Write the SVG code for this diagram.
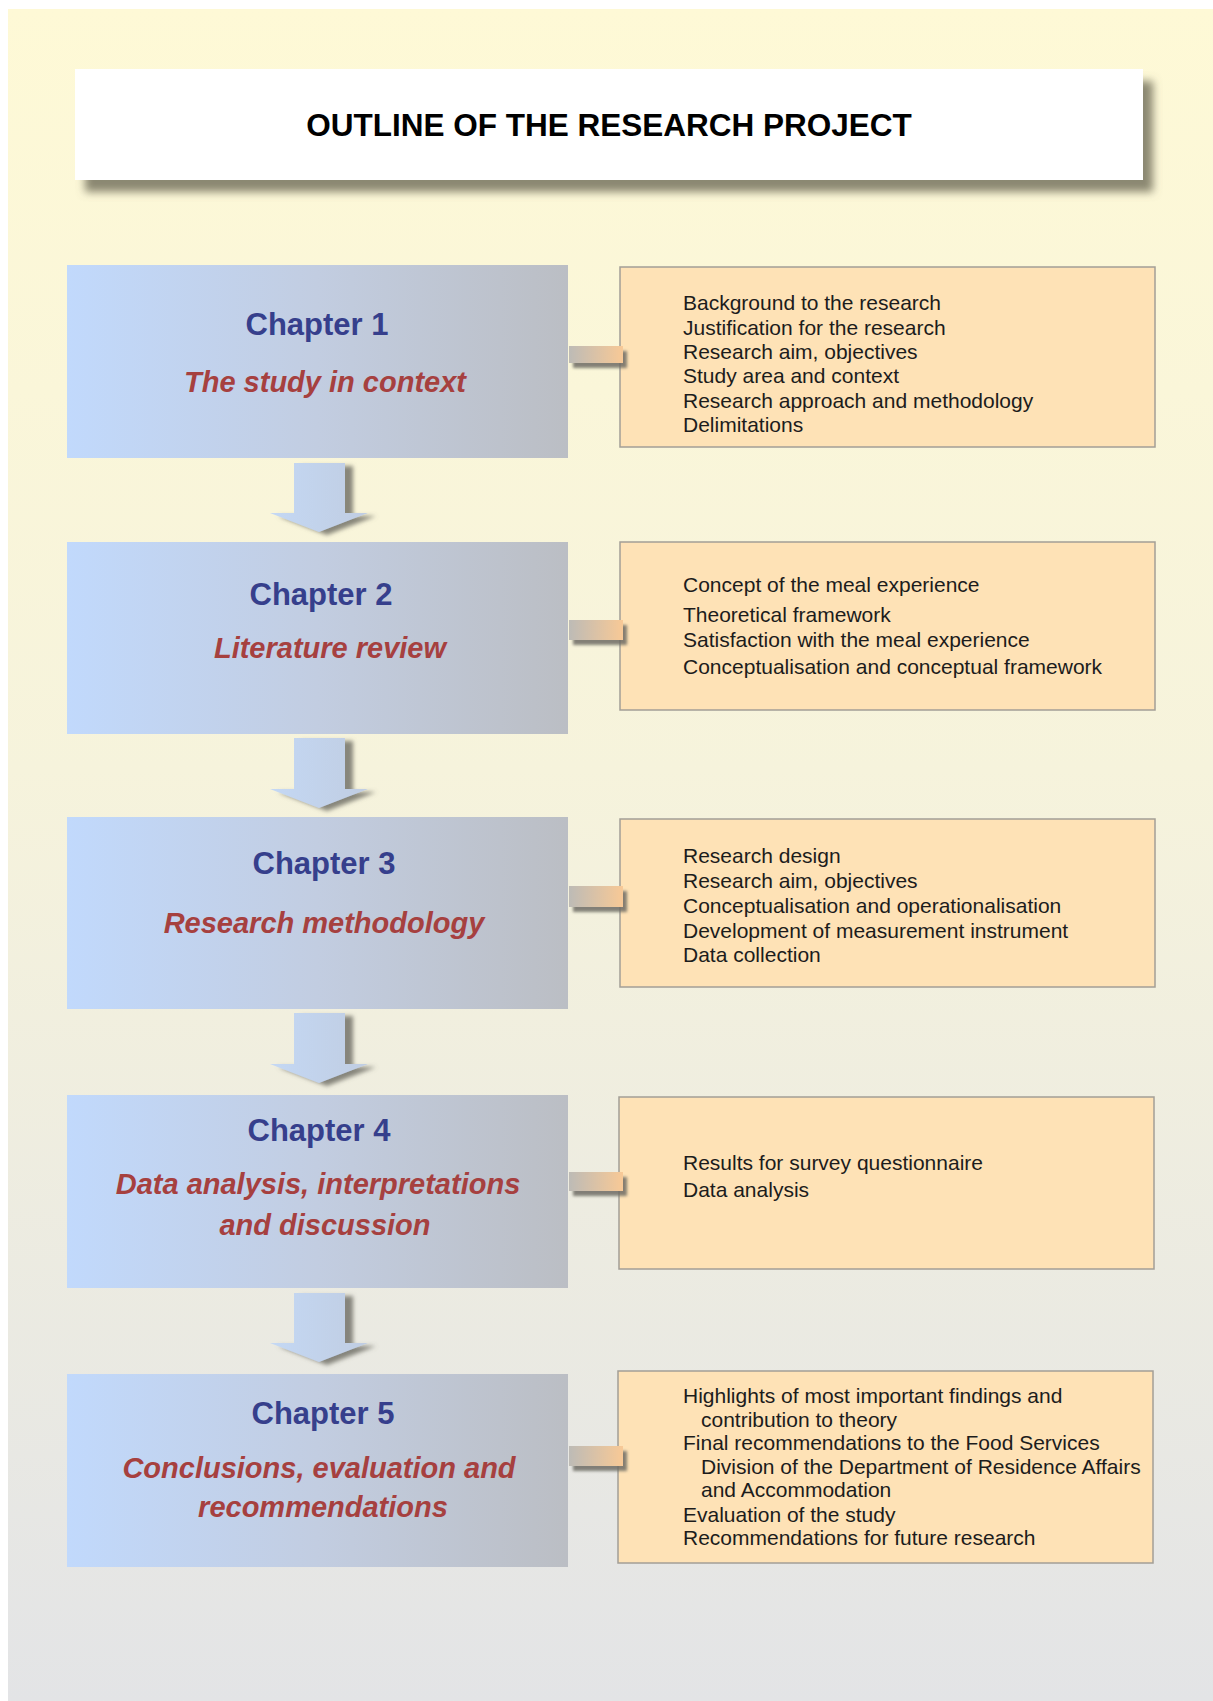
<svg xmlns="http://www.w3.org/2000/svg" width="1213" height="1701" viewBox="0 0 1213 1701">
  <style>
    .title { font-family: "Liberation Sans", Arial, sans-serif; font-weight: bold; font-size: 31.5px; fill: #000; text-anchor: middle; }
    .chap { font-family: "Liberation Sans", Arial, sans-serif; font-weight: bold; font-size: 31px; fill: #363f8c; text-anchor: middle; }
    .sub { font-family: "Liberation Sans", Arial, sans-serif; font-weight: bold; font-style: italic; font-size: 29px; fill: #a6403f; text-anchor: middle; }
    .item { font-family: "Liberation Sans", Arial, sans-serif; font-size: 21px; fill: #1c1c1c; }
    .chapbox { fill: url(#chapGrad); }
    .detail { fill: #fee2b6; stroke: #a39e96; stroke-width: 1.5; }
    .bar { fill: url(#barGrad); filter: url(#barShadow); }
    .arrow { fill: url(#arrowGrad); filter: url(#arrowShadow); }
  </style>
  <defs>
    <linearGradient id="bgGrad" x1="0" y1="0" x2="0" y2="1">
      <stop offset="0" stop-color="#fef9d6"/>
      <stop offset="0.45" stop-color="#f6f3dc"/>
      <stop offset="1" stop-color="#e3e4e6"/>
    </linearGradient>
    <linearGradient id="chapGrad" x1="0" y1="0" x2="1" y2="0">
      <stop offset="0" stop-color="#c1d9fc"/>
      <stop offset="0.5" stop-color="#c2cde1"/>
      <stop offset="1" stop-color="#bbbec4"/>
    </linearGradient>
    <linearGradient id="barGrad" x1="0" y1="0" x2="1" y2="0">
      <stop offset="0" stop-color="#bdbbb6"/>
      <stop offset="1" stop-color="#f8c996"/>
    </linearGradient>
    <linearGradient id="arrowGrad" x1="0" y1="0" x2="1" y2="0">
      <stop offset="0" stop-color="#c4d8f4"/>
      <stop offset="1" stop-color="#c0cde2"/>
    </linearGradient>
    <filter id="titleShadow" x="-5%" y="-20%" width="115%" height="160%">
      <feGaussianBlur in="SourceAlpha" stdDeviation="4"/>
      <feOffset dx="10" dy="12" result="blur"/>
      <feFlood flood-color="#6f6c58" flood-opacity="0.8"/>
      <feComposite in2="blur" operator="in"/>
      <feMerge><feMergeNode/><feMergeNode in="SourceGraphic"/></feMerge>
    </filter>
    <filter id="barShadow" x="-20%" y="-50%" width="160%" height="250%">
      <feGaussianBlur in="SourceAlpha" stdDeviation="1.5"/>
      <feOffset dx="4" dy="5" result="blur"/>
      <feFlood flood-color="#6e6c64" flood-opacity="0.85"/>
      <feComposite in2="blur" operator="in"/>
      <feMerge><feMergeNode/><feMergeNode in="SourceGraphic"/></feMerge>
    </filter>
    <filter id="arrowShadow" x="-20%" y="-20%" width="150%" height="150%">
      <feGaussianBlur in="SourceAlpha" stdDeviation="2"/>
      <feOffset dx="8" dy="3" result="blur"/>
      <feFlood flood-color="#6c6b62" flood-opacity="0.8"/>
      <feComposite in2="blur" operator="in"/>
      <feMerge><feMergeNode/><feMergeNode in="SourceGraphic"/></feMerge>
    </filter>
  </defs>

  <!-- page background -->
  <rect x="0" y="0" width="1213" height="1701" fill="#ffffff"/>
  <rect x="8" y="9" width="1205" height="1692" fill="url(#bgGrad)"/>

  <!-- heading banner -->
  <g id="title">
    <rect x="75" y="69" width="1068" height="111" fill="#ffffff" filter="url(#titleShadow)"/>
    <text class="title" x="609" y="136">OUTLINE OF THE RESEARCH PROJECT</text>
  </g>

  <!-- chapter blocks -->
  <g id="chapter1">
    <rect class="chapbox" x="67" y="265" width="501" height="193"/>
    <text class="chap" x="317" y="335">Chapter 1</text>
    <text class="sub" x="325" y="392">The study in context</text>
  </g>
  <g id="chapter2">
    <rect class="chapbox" x="67" y="542" width="501" height="192"/>
    <text class="chap" x="321" y="605">Chapter 2</text>
    <text class="sub" x="330" y="658">Literature review</text>
  </g>
  <g id="chapter3">
    <rect class="chapbox" x="67" y="817" width="501" height="192"/>
    <text class="chap" x="324" y="874">Chapter 3</text>
    <text class="sub" x="324" y="933">Research methodology</text>
  </g>
  <g id="chapter4">
    <rect class="chapbox" x="67" y="1095" width="501" height="193"/>
    <text class="chap" x="319" y="1141">Chapter 4</text>
    <text class="sub" x="318" y="1194">Data analysis, interpretations</text>
    <text class="sub" x="325" y="1235">and discussion</text>
  </g>
  <g id="chapter5">
    <rect class="chapbox" x="67" y="1374" width="501" height="193"/>
    <text class="chap" x="323" y="1424">Chapter 5</text>
    <text class="sub" x="319" y="1478">Conclusions, evaluation and</text>
    <text class="sub" x="323" y="1517">recommendations</text>
  </g>

  <!-- chapter contents -->
  <g id="contents1">
    <rect class="detail" x="620" y="267" width="535" height="180"/>
    <text class="item" x="683" y="310">Background to the research</text>
    <text class="item" x="683" y="335">Justification for the research</text>
    <text class="item" x="683" y="359">Research aim, objectives</text>
    <text class="item" x="683" y="383">Study area and context</text>
    <text class="item" x="683" y="408">Research approach and methodology</text>
    <text class="item" x="683" y="432">Delimitations</text>
  </g>
  <g id="contents2">
    <rect class="detail" x="620" y="542" width="535" height="168"/>
    <text class="item" x="683" y="592">Concept of the meal experience</text>
    <text class="item" x="683" y="622">Theoretical framework</text>
    <text class="item" x="683" y="647">Satisfaction with the meal experience</text>
    <text class="item" x="683" y="674">Conceptualisation and conceptual framework</text>
  </g>
  <g id="contents3">
    <rect class="detail" x="620" y="819" width="535" height="168"/>
    <text class="item" x="683" y="863">Research design</text>
    <text class="item" x="683" y="888">Research aim, objectives</text>
    <text class="item" x="683" y="913">Conceptualisation and operationalisation</text>
    <text class="item" x="683" y="938">Development of measurement instrument</text>
    <text class="item" x="683" y="962">Data collection</text>
  </g>
  <g id="contents4">
    <rect class="detail" x="619" y="1097" width="535" height="172"/>
    <text class="item" x="683" y="1170">Results for survey questionnaire</text>
    <text class="item" x="683" y="1197">Data analysis</text>
  </g>
  <g id="contents5">
    <rect class="detail" x="618" y="1371" width="535" height="192"/>
    <text class="item" x="683" y="1403">Highlights of most important findings and</text>
    <text class="item" x="701" y="1427">contribution to theory</text>
    <text class="item" x="683" y="1450">Final recommendations to the Food Services</text>
    <text class="item" x="701" y="1474">Division of the Department of Residence Affairs</text>
    <text class="item" x="701" y="1497">and Accommodation</text>
    <text class="item" x="683" y="1522">Evaluation of the study</text>
    <text class="item" x="683" y="1545">Recommendations for future research</text>
  </g>

  <!-- links between chapters and their contents, drawn on top -->
  <g id="connectors">
    <rect class="bar" x="569" y="346" width="54" height="17"/>
    <rect class="bar" x="569" y="620" width="54" height="20"/>
    <rect class="bar" x="569" y="886" width="54" height="21"/>
    <rect class="bar" x="569" y="1172" width="54" height="19"/>
    <rect class="bar" x="569" y="1446" width="54" height="20"/>
    <polygon class="arrow" points="294,463 345,463 345,513 368,513 319,532 270,513 294,513"/>
    <polygon class="arrow" points="294,738 345,738 345,789 368,789 319,808 270,789 294,789"/>
    <polygon class="arrow" points="294,1013 345,1013 345,1064 368,1064 319,1083 270,1064 294,1064"/>
    <polygon class="arrow" points="294,1293 345,1293 345,1343 368,1343 319,1362 270,1343 294,1343"/>
  </g>
</svg>
